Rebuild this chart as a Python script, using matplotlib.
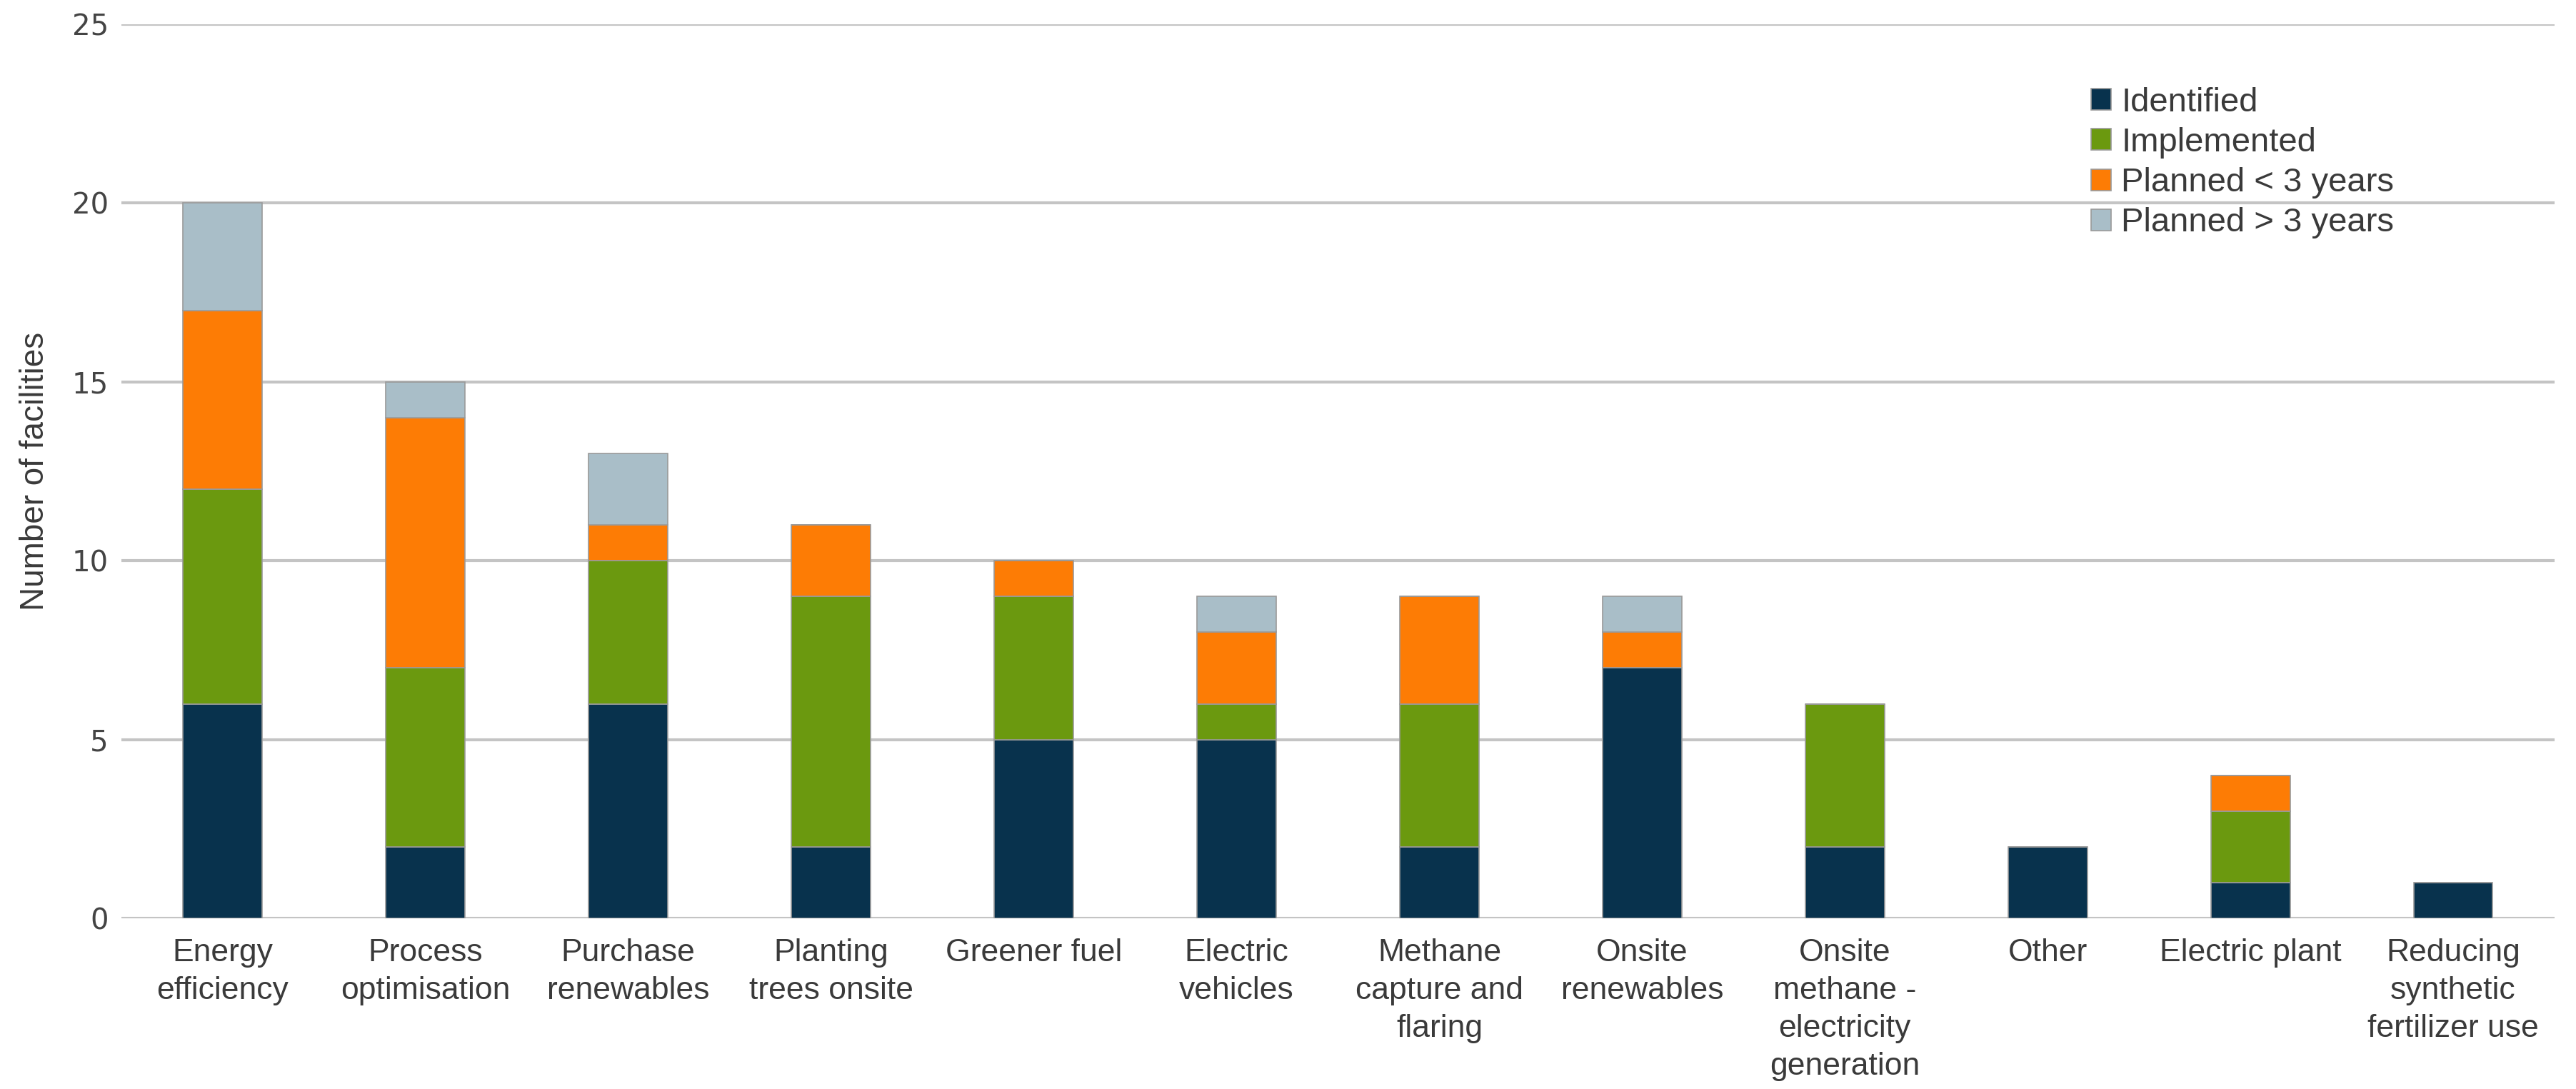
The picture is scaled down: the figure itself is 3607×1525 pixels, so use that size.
import numpy as np
import matplotlib.pyplot as plt

categories = ['Energy\nefficiency', 'Process\noptimisation', 'Purchase\nrenewables',
              'Planting\ntrees onsite', 'Greener fuel', 'Electric\nvehicles',
              'Methane\ncapture and\nflaring', 'Onsite\nrenewables',
              'Onsite\nmethane -\nelectricity\ngeneration', 'Other', 'Electric plant',
              'Reducing\nsynthetic\nfertilizer use']
identified = [6, 2, 6, 2, 5, 5, 2, 7, 2, 2, 1, 1]
implemented = [6, 5, 4, 7, 4, 1, 4, 0, 4, 0, 2, 0]
planned_lt3 = [5, 7, 1, 2, 1, 2, 3, 1, 0, 0, 1, 0]
planned_gt3 = [3, 1, 2, 0, 0, 1, 0, 1, 0, 0, 0, 0]

series = ['Identified', 'Implemented', 'Planned < 3 years', 'Planned > 3 years']
colors = ['#08324d', '#6b990f', '#fd7c05', '#a9bec8']

lab_font = ['Liberation Sans', 'DejaVu Sans']

fig = plt.figure(figsize=(36.07, 15.25), dpi=100)
ax = fig.add_axes([0.0471, 0.1567, 0.9446, 0.821])

x = np.arange(len(categories))
bottom = np.zeros(len(categories))
for name, vals, col in zip(series, [identified, implemented, planned_lt3, planned_gt3], colors):
    vals = np.array(vals, dtype=float)
    ax.bar(x, vals, width=0.39, bottom=bottom, color=col, edgecolor='#9a9a9a',
           linewidth=1.2, label=name, zorder=3)
    bottom += vals

ax.set_xlim(-0.5, len(categories) - 0.5)
ax.set_ylim(0, 25)
ax.yaxis.grid(True, color='#c4c4c4', linewidth=3, zorder=0)
ax.set_axisbelow(True)
for s in ax.spines.values():
    s.set_visible(False)

ax.set_xticks(x)
ax.set_xticklabels(categories, family=lab_font, fontsize=32, color='#3a3a3a',
                   linespacing=1.38)
ax.tick_params(axis='x', length=0, pad=20)
ax.set_yticks([0, 5, 10, 15, 20, 25])
ax.set_yticklabels(['0', '5', '10', '15', '20', '25'], family='DejaVu Sans',
                   fontsize=29, color='#444444')
ax.tick_params(axis='y', length=0, pad=13)
ax.set_ylabel('Number of facilities', family=lab_font, fontsize=33,
              color='#3a3a3a', labelpad=21)

leg = ax.legend(loc='upper left', bbox_to_anchor=(0.8095, 0.93), frameon=False,
                prop={'family': lab_font, 'size': 34}, handlelength=0.6,
                handleheight=0.6, handletextpad=0.3, labelspacing=0.26,
                borderaxespad=0, borderpad=0)
for t in leg.get_texts():
    t.set_color('#3a3a3a')

fig.savefig('out.png', dpi=100, facecolor='white')
